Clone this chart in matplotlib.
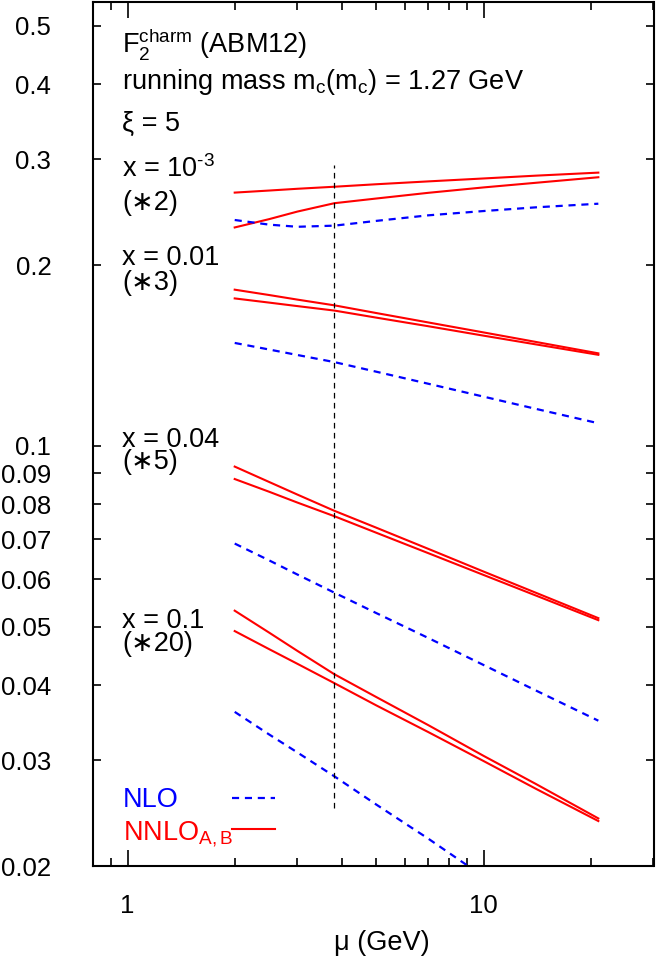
import matplotlib
matplotlib.use('Agg')
import matplotlib.pyplot as plt
from matplotlib.lines import Line2D
from matplotlib.ticker import FixedLocator, FixedFormatter, NullFormatter

plt.rcParams['font.family'] = ['Liberation Sans', 'DejaVu Sans']
plt.rcParams['mathtext.fontset'] = 'custom'
plt.rcParams['mathtext.rm'] = 'Liberation Sans'
plt.rcParams['mathtext.it'] = 'Liberation Sans:italic'
plt.rcParams['mathtext.bf'] = 'Liberation Sans:bold'

# ---------------- data ----------------
mu = [2, 2.5, 3, 3.81, 5, 7, 10, 14, 21]

# x = 1e-3 (*2)
x1e3_nnlo_a = [0.264, 0.2661, 0.2679, 0.270, 0.2726, 0.2756, 0.2787, 0.2817, 0.285]
x1e3_nnlo_b = [0.231, 0.2385, 0.2455, 0.2535, 0.2581, 0.2638, 0.2693, 0.2741, 0.280]
x1e3_nlo = [0.2377, 0.2335, 0.2316, 0.2326, 0.2369, 0.2420, 0.2460, 0.2495, 0.253]

# x = 0.01 (*3)
x001_nnlo_a = [0.182, 0.1783, 0.1752, 0.1714, 0.1664, 0.1605, 0.1545, 0.1490, 0.1426]
x001_nnlo_b = [0.176, 0.1732, 0.1709, 0.168, 0.1635, 0.1582, 0.1526, 0.1476, 0.1418]
x001_nlo = [0.1484, 0.1447, 0.1417, 0.1379, 0.1329, 0.1269, 0.1208, 0.1153, 0.1091]

# x = 0.04 (*5)
x004_nnlo_a = [0.0924, 0.0871, 0.0830, 0.0780, 0.0731, 0.0674, 0.0618, 0.0570, 0.0517]
x004_nnlo_b = [0.0881, 0.0839, 0.0805, 0.0764, 0.0717, 0.0663, 0.0610, 0.0564, 0.0513]
x004_nlo = [0.0688, 0.0645, 0.0611, 0.0570, 0.0527, 0.0479, 0.0432, 0.0392, 0.0349]

# x = 0.1 (*20)
x01_nnlo_a = [0.0532, 0.0489, 0.0456, 0.0417, 0.0382, 0.0343, 0.0305, 0.0274, 0.0240]
x01_nnlo_b = [0.0492, 0.0459, 0.0434, 0.0403, 0.0370, 0.0334, 0.0299, 0.0269, 0.02376]
x01_nlo = [0.0361, 0.0331, 0.0309, 0.0282, 0.0253, 0.0222, 0.0192, 0.0168, 0.0143]

mc_scale = 3.81
mc_line_range = [0.025, 0.293]

yticks = [0.02, 0.03, 0.04, 0.05, 0.06, 0.07, 0.08, 0.09, 0.1, 0.2, 0.3, 0.4, 0.5]
ytick_labels = ['0.02', '0.03', '0.04', '0.05', '0.06', '0.07', '0.08', '0.09',
                '0.1', '0.2', '0.3', '0.4', '0.5']
xticks_major = [1, 10]
xtick_labels = ['1', '10']
xticks_minor = [0.9, 2, 3, 4, 5, 6, 7, 8, 9, 20, 30]

legend_labels = ['NLO', r'NNLO$_{\rm A,B}$']

# ---------------- figure ----------------
W, H = 657, 963
fig = plt.figure(figsize=(W / 100, H / 100), dpi=100)
ax = fig.add_axes([93 / W, 97 / H, 560.5 / W, 864 / H])
ax.set_xscale('log')
ax.set_yscale('log')
ax.set_xlim(0.8, 30)
ax.set_ylim(0.02, 0.548)

red = '#ff0000'
blue = '#0000ff'
lw_r = 1.5
lw_b = 1.6
dash_b = (3.2, 2.6)

groups = [
    (x1e3_nnlo_a, x1e3_nnlo_b, x1e3_nlo),
    (x001_nnlo_a, x001_nnlo_b, x001_nlo),
    (x004_nnlo_a, x004_nnlo_b, x004_nlo),
    (x01_nnlo_a, x01_nnlo_b, x01_nlo),
]
for a, b, n in groups:
    ax.plot(mu, a, color=red, lw=lw_r)
    ax.plot(mu, b, color=red, lw=lw_r)
    ax.plot(mu, n, color=blue, lw=lw_b, dashes=dash_b)

ax.vlines(mc_scale, mc_line_range[0], mc_line_range[1], colors='black',
          lw=0.9, linestyles=(0, (4.5, 3.5)))

# ticks
ax.yaxis.set_major_locator(FixedLocator(yticks))
ax.yaxis.set_major_formatter(FixedFormatter(ytick_labels))
ax.yaxis.set_minor_locator(FixedLocator([]))
ax.yaxis.set_minor_formatter(NullFormatter())
ax.xaxis.set_major_locator(FixedLocator(xticks_major))
ax.xaxis.set_major_formatter(FixedFormatter(xtick_labels))
ax.xaxis.set_minor_locator(FixedLocator(xticks_minor))
ax.xaxis.set_minor_formatter(NullFormatter())

fs = 19.5
tfs = 18.5
ax.tick_params(which='both', direction='in', top=True, right=True, width=1.2,
               labelsize=tfs, colors='black')
ax.tick_params(axis='x', which='major', length=11.5, pad=20)
ax.tick_params(axis='x', which='minor', length=5.8)
ax.tick_params(axis='y', which='major', length=5.8, pad=30)
for s in ax.spines.values():
    s.set_linewidth(1.5)

ax.set_xlabel('μ (GeV)', fontsize=fs)
ax.xaxis.set_label_coords((382 - 93) / 560.5, -(943 - 866) / 864)
ax.xaxis.label.set_va('center')

# annotations
tx = (122 - 93) / 560.5
def ay(ypix):
    return (866 - ypix) / 864
def axx(xpix):
    return (xpix - 93) / 560.5

kw = dict(transform=ax.transAxes, fontsize=fs, va='baseline')
ax.text(tx, ay(53), r'F$_{\rm 2}^{\rm charm}$ (ABM12)', **kw)
ax.text(tx, ay(89), r'running mass m$_{\rm c}$(m$_{\rm c}$) = 1.27 GeV', **kw)
ax.text(tx, ay(131), 'ξ = 5', **kw)
ax.text(tx, ay(177), 'x = 10$^{\\rm \u20103}$', **kw)
ax.text(tx, ay(210), '(∗2)', **kw)
ax.text(tx, ay(265), 'x = 0.01', **kw)
ax.text(tx, ay(290), '(∗3)', **kw)
ax.text(tx, ay(447), 'x = 0.04', **kw)
ax.text(tx, ay(469), '(∗5)', **kw)
ax.text(tx, ay(628), 'x = 0.1', **kw)
ax.text(tx, ay(651), '(∗20)', **kw)

# legend (labels left-aligned, keys in a column to the right)
ax.text(axx(123), ay(807), legend_labels[0], color=blue, **kw)
ax.text(axx(123), ay(840), legend_labels[1], color=red, **kw)
ax.add_line(Line2D([axx(232), axx(275)], [ay(798), ay(798)], transform=ax.transAxes,
                   color=blue, lw=lw_b, dashes=dash_b))
ax.add_line(Line2D([axx(232), axx(275)], [ay(829), ay(829)], transform=ax.transAxes,
                   color=red, lw=lw_r))

fig.savefig('out.png', dpi=100)
